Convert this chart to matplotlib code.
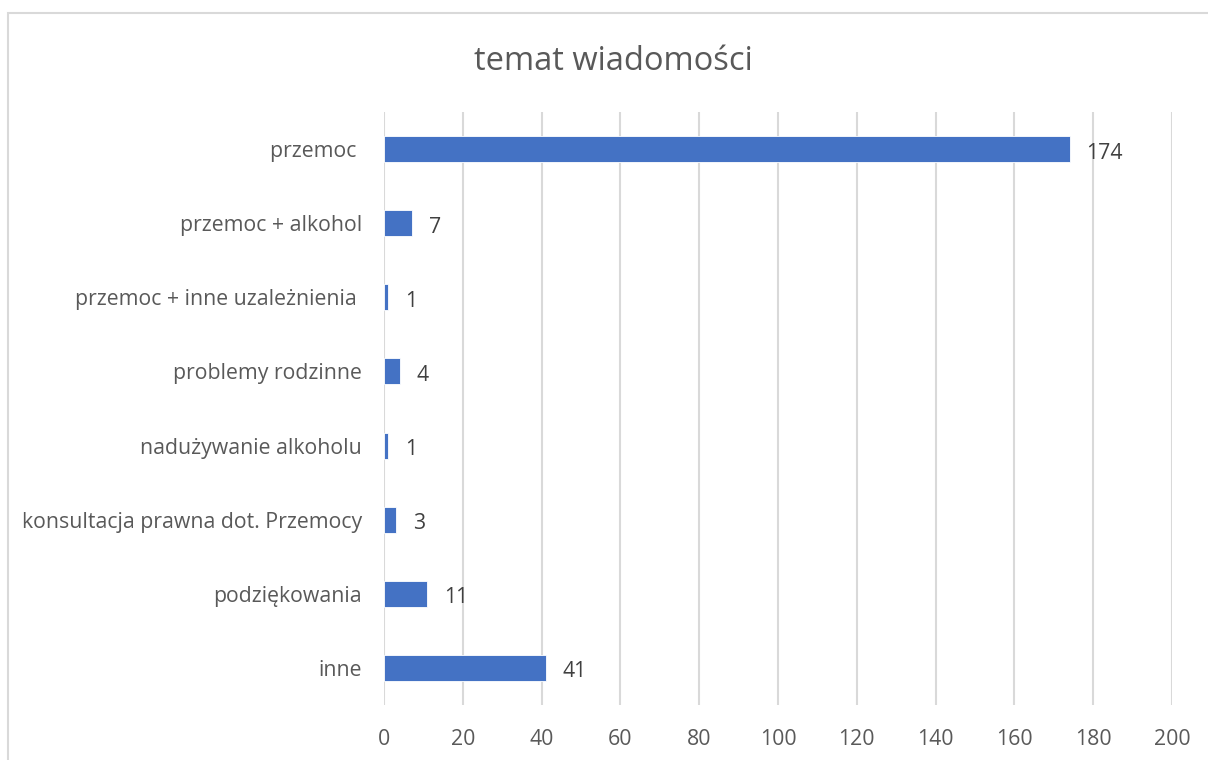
import matplotlib.pyplot as plt
from matplotlib.patches import Rectangle

categories = ["przemoc ", "przemoc + alkohol", "przemoc + inne uzależnienia ",
              "problemy rodzinne", "nadużywanie alkoholu",
              "konsultacja prawna dot. Przemocy", "podziękowania", "inne"]
values = [174, 7, 1, 4, 1, 3, 11, 41]
xticks = list(range(0, 201, 20))

plt.rcParams['font.family'] = ['Open Sans', 'DejaVu Sans']

fig = plt.figure(figsize=(12.08, 7.6), dpi=100)
fig.patches.append(Rectangle((8 / 1208, -0.1), 1.2, 1 - 13 / 760 + 0.1,
                             transform=fig.transFigure, fill=False,
                             edgecolor="#d9d9d9", linewidth=1.5))
ax = fig.add_axes([384 / 1208, 1 - 705 / 760, 788 / 1208, 593 / 760])

y = list(range(len(categories)))
ax.barh(y, values, height=0.35, color="#4472c4", edgecolor="white", linewidth=0.6, zorder=3)
for yi, v in zip(y, values):
    ax.annotate(str(v), (v, yi), xytext=(17, -4), textcoords="offset pixels",
                va="center", ha="left", fontsize=15.3, color="#404040")

ax.set_ylim(len(categories) - 0.5, -0.5)
ax.set_xlim(0, 200)
ax.set_yticks(y)
ax.set_yticklabels(categories, fontsize=15.3, color="#595959")
ax.set_xticks(xticks)
ax.set_xticklabels([str(t) for t in xticks], fontsize=15.3, color="#595959")
ax.tick_params(length=0)
ax.tick_params(axis="y", pad=16)
ax.tick_params(axis="x", pad=17)
ax.grid(axis="x", color="#d9d9d9", linewidth=1.5, zorder=0)
for s in ax.spines.values():
    s.set_visible(False)

fig.text(613 / 1208, 1 - 61 / 760, "temat wiadomości", ha="center", va="center",
         fontsize=23.5, color="#595959")

fig.savefig("out.png", dpi=100)
